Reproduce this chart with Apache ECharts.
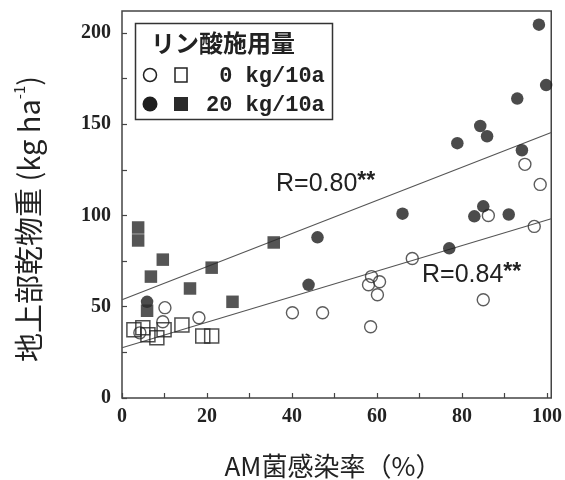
<!DOCTYPE html>
<html>
<head>
<meta charset="utf-8">
<script src="https://cdn.jsdelivr.net/npm/echarts@6/dist/echarts.min.js"></script>
<style>
  html, body { margin: 0; padding: 0; background: #fff; }
  #chart { width: 565px; height: 480px; }
</style>
</head>
<body>
<div id="chart"></div>
<script>
// AM fungal colonisation rate (%) against shoot dry weight (kg/ha),
// for two phosphate application rates (0 and 20 kg/10a).

// 0 kg/10a, circles
const zeroCircleX = [94.8, 98.4, 86.2, 97.0, 68.3, 58.7, 60.6, 58.0, 60.1, 85.0, 40.1, 47.2, 58.5, 10.1, 18.1, 9.6, 4.2];
const zeroCircleY = [128, 117, 100, 94, 76.4, 66.5, 63.7, 62, 56.6, 53.8, 46.7, 46.7, 39, 49.5, 44, 41.8, 35.7];
// 0 kg/10a, squares
const zeroSquareX = [2.8, 4.9, 6.1, 9.9, 8.2, 14.1, 19.0, 21.1];
const zeroSquareY = [37.4, 38.5, 34.6, 37.4, 33.0, 40.0, 34.0, 34.0];
// 20 kg/10a, circles
const twentyCircleX = [98.1, 99.8, 93.0, 84.3, 85.9, 78.9, 94.1, 66.0, 82.9, 85.0, 91.0, 46.0, 77.0, 43.9, 5.9];
const twentyCircleY = [204.5, 171.4, 164.0, 149.0, 143.4, 139.6, 135.7, 101.0, 99.5, 105.0, 100.5, 88.0, 82.0, 62.0, 52.7];
// 20 kg/10a, squares
const twentySquareX = [3.8, 3.8, 9.6, 6.8, 16.0, 21.1, 35.7, 26.0, 5.9];
const twentySquareY = [93.4, 86.3, 75.8, 66.5, 60.0, 71.4, 85.2, 52.7, 47.8];

// Fitted regression lines (end points)
const fitX = [0, 101];
const fitTwentyY = [53.8, 145.4];
const fitZeroY = [27.5, 98.2];

const xLabelValues = [0, 20, 40, 60, 80, 100];
const yLabelValues = [0, 50, 100, 150, 200];

const pairs = (xs, ys) => xs.map((x, i) => [x, ys[i]]);

const ink = '#1e1e1e';
const tickFont = { fontFamily: 'Liberation Serif', fontWeight: 'bold', fontSize: 20, color: '#222' };

const chart = echarts.init(document.getElementById('chart'), null, { renderer: 'canvas' });

const corrLabel = (txt) => ({
  text: '{r|' + txt + '}{s|**}', align: 'left', verticalAlign: 'middle',
  rich: {
    r: { fontFamily: 'Liberation Sans', fontSize: 25, fill: '#222', lineHeight: 28 },
    s: { fontFamily: 'Liberation Sans', fontWeight: 'bold', fontSize: 23, fill: '#222', verticalAlign: 'top', lineHeight: 24 }
  }
});

chart.setOption({
  animation: false,
  backgroundColor: '#fff',
  grid: {
    left: 122, right: 12, top: 11, bottom: 82,
    show: true, borderColor: '#444', borderWidth: 1.5, backgroundColor: 'transparent'
  },
  xAxis: {
    type: 'value', min: 0, max: 101, interval: 10,
    axisLine: { show: false },
    splitLine: { show: false },
    axisTick: { inside: true, length: 5, lineStyle: { color: '#444', width: 1.2 } },
    axisLabel: Object.assign({
      margin: 9, showMaxLabel: false,
      formatter: v => xLabelValues.includes(v) ? String(v) : ''
    }, tickFont)
  },
  yAxis: {
    type: 'value', min: 0, max: 212, interval: 25,
    axisLine: { show: false },
    splitLine: { show: false },
    axisTick: { inside: true, length: 5, lineStyle: { color: '#444', width: 1.2 } },
    axisLabel: Object.assign({
      margin: 11, showMaxLabel: false,
      formatter: v => yLabelValues.includes(v) ? String(v) : ''
    }, tickFont)
  },
  series: [
    {
      name: 'fit 20', type: 'line', data: pairs(fitX, fitTwentyY),
      symbol: 'none', silent: true, z: 1,
      lineStyle: { color: '#555', width: 1.1 }
    },
    {
      name: 'fit 0', type: 'line', data: pairs(fitX, fitZeroY),
      symbol: 'none', silent: true, z: 1,
      lineStyle: { color: '#555', width: 1.1 }
    },
    {
      name: '0 kg/10a circle', type: 'scatter', data: pairs(zeroCircleX, zeroCircleY),
      symbol: 'circle', symbolSize: 12, z: 3,
      itemStyle: { color: 'rgba(255,255,255,0)', borderColor: '#333', borderWidth: 1.4 }
    },
    {
      name: '0 kg/10a square', type: 'scatter', data: pairs(zeroSquareX, zeroSquareY),
      symbol: 'rect', symbolSize: 14, z: 3,
      itemStyle: { color: 'rgba(255,255,255,0)', borderColor: '#222', borderWidth: 1.5 }
    },
    {
      name: '20 kg/10a circle', type: 'scatter', data: pairs(twentyCircleX, twentyCircleY),
      symbol: 'circle', symbolSize: 12.5, z: 4,
      itemStyle: { color: ink }
    },
    {
      name: '20 kg/10a square', type: 'scatter', data: pairs(twentySquareX, twentySquareY),
      symbol: 'rect', symbolSize: 12.5, z: 4,
      itemStyle: { color: '#2a2a2a' }
    }
  ],
  graphic: [
    // Legend box
    { type: 'rect', shape: { x: 135.5, y: 23.5, width: 197, height: 96 },
      style: { fill: '#fff', stroke: '#333', lineWidth: 1.5 }, z: 10 },
    { type: 'text', x: 151, y: 43, z: 11,
      style: { text: 'リン酸施用量', fontFamily: 'Noto Sans CJK JP', fontWeight: 'bold', fontSize: 24,
               fill: '#222', align: 'left', verticalAlign: 'middle' } },
    { type: 'circle', shape: { cx: 150, cy: 75, r: 6.5 }, z: 11,
      style: { fill: '#fff', stroke: '#222', lineWidth: 1.5 } },
    { type: 'rect', shape: { x: 175, y: 68, width: 12, height: 14 }, z: 11,
      style: { fill: '#fff', stroke: '#222', lineWidth: 1.5 } },
    { type: 'text', x: 206, y: 76, z: 11,
      style: { text: ' 0 kg/10a', fontFamily: 'Liberation Mono', fontWeight: 'bold', fontSize: 22,
               fill: '#222', align: 'left', verticalAlign: 'middle' } },
    { type: 'circle', shape: { cx: 150, cy: 104, r: 7.5 }, z: 11,
      style: { fill: ink } },
    { type: 'rect', shape: { x: 174, y: 97, width: 14, height: 14 }, z: 11,
      style: { fill: '#2a2a2a' } },
    { type: 'text', x: 206, y: 105, z: 11,
      style: { text: '20 kg/10a', fontFamily: 'Liberation Mono', fontWeight: 'bold', fontSize: 22,
               fill: '#222', align: 'left', verticalAlign: 'middle' } },

    // Correlation labels
    { type: 'text', x: 276, y: 184, z: 12, style: corrLabel('R=0.80') },
    { type: 'text', x: 422, y: 275, z: 12, style: corrLabel('R=0.84') },

    // Axis titles
    { type: 'text', x: 333, y: 466, z: 12,
      style: { text: 'AM菌感染率（%）', fontFamily: 'Noto Sans CJK JP', fontSize: 26, fill: '#222',
               align: 'center', verticalAlign: 'middle' } },
    { type: 'text', x: 29, y: 219, rotation: Math.PI / 2, z: 12,
      style: { text: '{a|地上部乾物重 (kg ha}{s|-1}{a|)}', align: 'center', verticalAlign: 'middle',
               rich: {
                 a: { fontFamily: 'Noto Sans CJK JP', fontSize: 29, fill: '#222', lineHeight: 34 },
                 s: { fontFamily: 'Noto Sans CJK JP', fontSize: 15, fill: '#222', verticalAlign: 'top', lineHeight: 34 }
               } } }
  ]
});
</script>
</body>
</html>
